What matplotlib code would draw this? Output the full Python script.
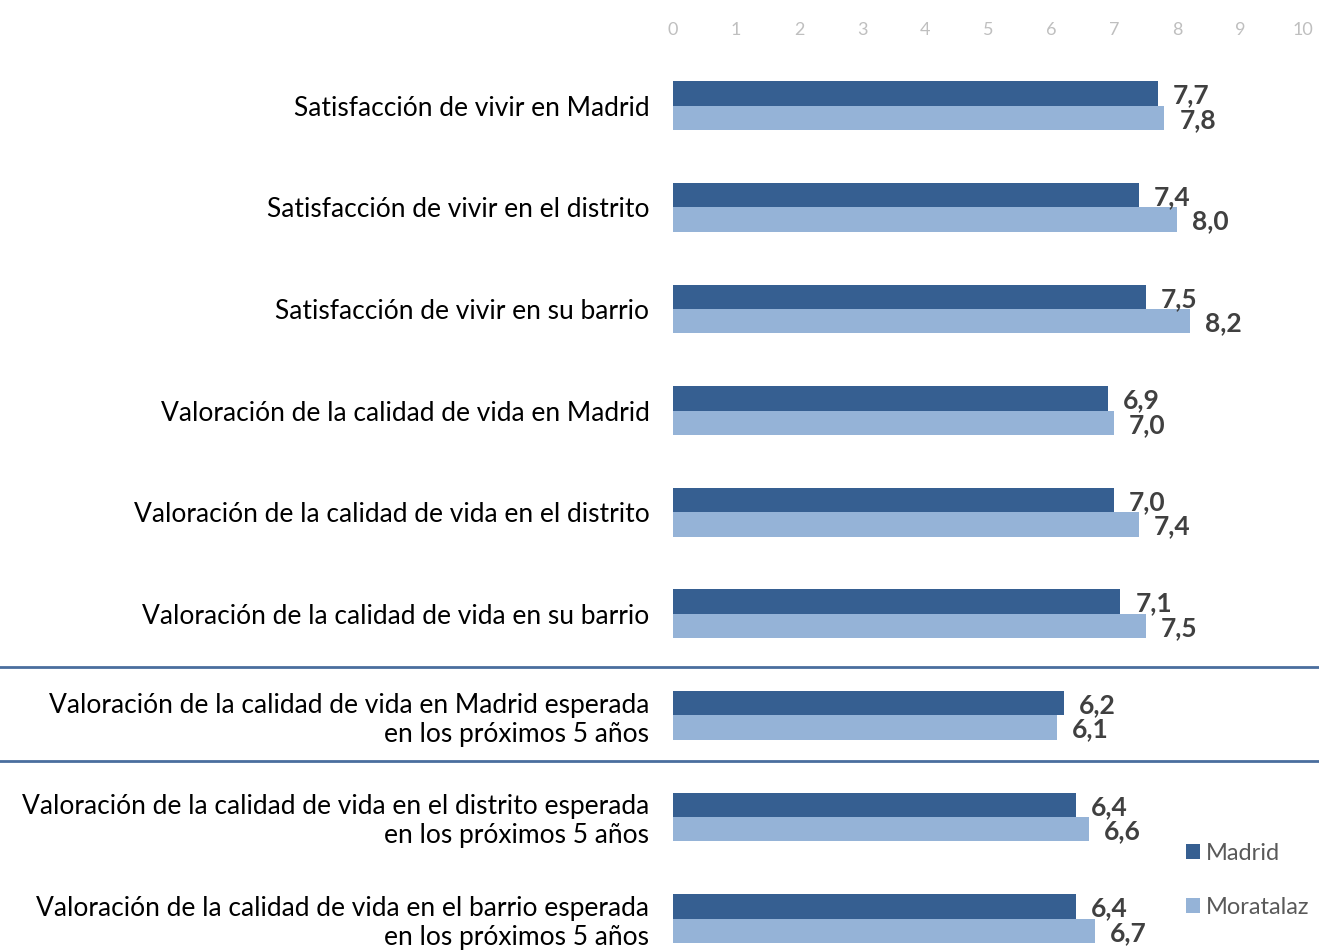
import matplotlib.pyplot as plt
from matplotlib.transforms import blended_transform_factory

plt.rcParams['font.family'] = ['Lato', 'DejaVu Sans']

categories = [
    "Satisfacción de vivir en Madrid",
    "Satisfacción de vivir en el distrito",
    "Satisfacción de vivir en su barrio",
    "Valoración de la calidad de vida en Madrid",
    "Valoración de la calidad de vida en el distrito",
    "Valoración de la calidad de vida en su barrio",
    "Valoración de la calidad de vida en Madrid esperada\nen los próximos 5 años",
    "Valoración de la calidad de vida en el distrito esperada\nen los próximos 5 años",
    "Valoración de la calidad de vida en el barrio esperada\nen los próximos 5 años",
]
madrid = [7.7, 7.4, 7.5, 6.9, 7.0, 7.1, 6.2, 6.4, 6.4]
moratalaz = [7.8, 8.0, 8.2, 7.0, 7.4, 7.5, 6.1, 6.6, 6.7]
series_names = ["Madrid", "Moratalaz"]
ticks = list(range(0, 11))

c_mad = "#365F91"
c_mor = "#95B3D7"

fig = plt.figure(figsize=(13.19, 9.5), dpi=100)
ax = fig.add_axes([673 / 1319, 0, 630 / 1319, 1 - 55 / 950])

h = 0.24
y = list(range(len(categories)))
b1 = ax.barh([v - h / 2 for v in y], madrid, height=h, color=c_mad, label=series_names[0])
b2 = ax.barh([v + h / 2 for v in y], moratalaz, height=h, color=c_mor, label=series_names[1])

for i in y:
    ax.annotate(f"{madrid[i]:.1f}".replace(".", ","), (madrid[i], i - h / 2),
                xytext=(15, -2), textcoords="offset pixels", va="center", ha="left",
                fontsize=19, fontweight="bold", color="#404040")
    ax.annotate(f"{moratalaz[i]:.1f}".replace(".", ","), (moratalaz[i], i + h / 2),
                xytext=(15, -2), textcoords="offset pixels", va="center", ha="left",
                fontsize=19, fontweight="bold", color="#404040")

ax.set_xlim(0, 10)
ax.set_ylim(8.31, -0.5)
ax.set_xticks(ticks)
ax.xaxis.tick_top()
ax.tick_params(axis="x", length=0, labelsize=13, labelcolor="#BFBFBF", pad=12)
ax.set_yticks(y)
ax.set_yticklabels(categories, fontsize=19, color="#000000", linespacing=1.2)
ax.tick_params(axis="y", length=0, pad=17)
for s in ax.spines.values():
    s.set_visible(False)

tr = blended_transform_factory(fig.transFigure, ax.transData)
for yl in [5.52, 6.45]:
    ax.plot([0, 1], [yl, yl], transform=tr, color="#4A6E9E", lw=2, clip_on=False)

leg = fig.legend(handles=[b1, b2], loc="upper left", bbox_to_anchor=(1174 / 1319, 1 - 831 / 950),
                 frameon=False, fontsize=17, handlelength=0.6, handleheight=0.6,
                 handletextpad=0.25, labelspacing=1.4, borderpad=0)
for t in leg.get_texts():
    t.set_color("#595959")

fig.savefig("out.png", dpi=100)
